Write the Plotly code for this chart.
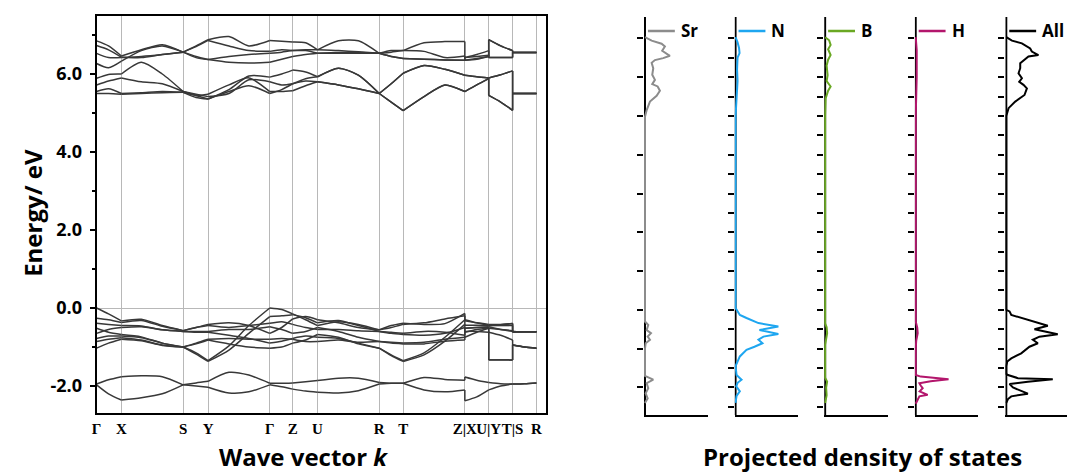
import plotly.graph_objects as go

W, H = 1067, 475

# ---------------- band structure data ----------------
# k-path sample positions (distance along path); repeated values mark discontinuities
K_GRID = [0, 12, 25, 45, 66, 87, 100, 112, 133, 153, 174, 186, 197, 210, 222, 243, 263,
          284, 296, 308, 329, 350, 370, 370, 382, 394, 394, 406, 418, 418, 430, 442]
K_POINTS = [0, 25, 87, 112, 174, 197, 222, 284, 308, 370, 394, 418, 442]
K_LABELS = ["Γ", "X", "S", "Y", "Γ", "Z", "U", "R", "T", "Z|X", "U|Y", "T|S", "R"]
K_END = 452

CB1 = [6.85, 6.72, 6.46, 6.62, 6.75, 6.56, 6.72, 6.88, 6.96, 6.72, 6.86, 6.84, 6.82, 6.80, 6.62, 6.85,
       6.85, 6.53, 6.56, 6.60, 6.80, 6.83, 6.83, 6.35, 6.38, 6.45, 6.88, 6.72, 6.60, 6.55, 6.55, 6.55]
CB2 = [6.73, 6.62, 6.43, 6.42, 6.50, 6.56, 6.45, 6.37, 6.45, 6.50, 6.53, 6.56, 6.60, 6.60, 6.53, 6.53,
       6.53, 6.53, 6.45, 6.40, 6.38, 6.36, 6.35, 6.42, 6.45, 6.48, 6.42, 6.42, 6.42, 6.55, 6.55, 6.55]
CB3 = [6.53, 6.42, 6.42, 6.45, 6.50, 6.56, 6.70, 6.86, 6.72, 6.60, 6.58, 6.62, 6.60, 6.62, 6.62, 6.60,
       6.57, 6.53, 6.60, 6.60, 6.58, 6.42, 6.46, 6.42, 6.50, 6.60, 6.42, 6.42, 6.42, 6.55, 6.55, 6.55]
CB4 = [6.27, 6.16, 6.33, 6.60, 6.72, 6.56, 6.42, 6.37, 6.30, 6.28, 6.30, 6.38, 6.45, 6.50, 6.53, 6.55,
       6.55, 6.53, 6.45, 6.40, 6.38, 6.36, 6.35, 6.35, 6.40, 6.45, 6.88, 6.72, 6.60, 6.55, 6.55, 6.55]
CB5 = [5.89, 5.99, 6.00, 6.30, 6.00, 5.55, 5.45, 5.36, 5.60, 5.95, 5.92, 6.00, 6.10, 6.05, 5.93, 6.15,
       5.97, 5.50, 5.75, 6.02, 6.22, 6.12, 5.97, 5.97, 5.93, 5.90, 5.90, 5.98, 6.08, 5.50, 5.50, 5.50]
CB6 = [5.72, 5.82, 5.90, 5.80, 5.75, 5.55, 5.48, 5.42, 5.50, 5.85, 5.80, 5.72, 5.75, 5.82, 5.80, 5.72,
       5.62, 5.50, 5.28, 5.06, 5.42, 5.72, 5.55, 5.55, 5.72, 5.88, 5.45, 5.28, 5.07, 5.50, 5.50, 5.50]
CB7 = [5.55, 5.62, 5.50, 5.52, 5.55, 5.53, 5.45, 5.48, 5.72, 5.90, 5.55, 5.55, 5.57, 5.70, 5.80, 5.72,
       5.62, 5.50, 5.28, 5.06, 5.42, 5.72, 5.55, 5.55, 5.72, 5.88, 5.45, 5.28, 5.07, 5.50, 5.50, 5.50]
CB8 = [5.50, 5.50, 5.48, 5.50, 5.52, 5.53, 5.40, 5.36, 5.55, 5.70, 5.50, 5.60, 5.75, 5.88, 5.93, 6.15,
       5.97, 5.50, 5.75, 6.02, 6.22, 6.12, 5.97, 5.97, 5.93, 5.90, 5.90, 5.98, 6.08, 5.50, 5.50, 5.50]

VB1 = [-0.52, -0.62, -0.68, -0.74, -0.90, -1.00, -1.15, -1.35, -0.97, -0.45, 0.00, -0.04, -0.15, -0.30, -0.45, -0.35,
       -0.42, -0.56, -0.45, -0.39, -0.42, -0.40, -0.14, -0.33, -0.38, -0.42, -0.42, -0.42, -0.40, -0.60, -0.61, -0.61]
VB2 = [-0.78, -0.72, -0.72, -0.76, -0.90, -1.00, -1.18, -1.37, -1.08, -0.65, -0.22, -0.20, -0.17, -0.25, -0.38, -0.32,
       -0.45, -0.60, -0.62, -0.65, -0.60, -0.62, -0.70, -0.52, -0.50, -0.50, -1.33, -1.33, -1.33, -0.95, -1.00, -1.03]
VB3 = [0.00, -0.15, -0.33, -0.29, -0.45, -0.58, -0.50, -0.42, -0.38, -0.45, -0.65, -0.50, -0.28, -0.22, -0.30, -0.38,
       -0.50, -0.56, -0.50, -0.42, -0.38, -0.28, -0.20, -0.44, -0.44, -0.45, -0.45, -0.45, -0.45, -0.62, -0.61, -0.61]
VB4 = [-0.26, -0.30, -0.37, -0.32, -0.47, -0.58, -0.50, -0.45, -0.50, -0.45, -0.39, -0.35, -0.42, -0.50, -0.55, -0.55,
       -0.58, -0.60, -0.65, -0.68, -0.70, -0.65, -0.50, -0.60, -0.60, -0.62, -0.62, -0.70, -0.82, -0.95, -1.00, -1.03]
VB5 = [-0.39, -0.42, -0.45, -0.46, -0.56, -0.60, -0.60, -0.60, -0.55, -0.55, -0.48, -0.55, -0.65, -0.60, -0.50, -0.60,
       -0.75, -0.86, -0.88, -0.90, -0.88, -0.80, -0.75, -0.75, -0.62, -0.52, -0.52, -0.55, -0.58, -0.61, -0.61, -0.61]
VB6 = [-0.65, -0.55, -0.50, -0.48, -0.56, -0.60, -0.62, -0.62, -0.70, -0.78, -0.90, -0.85, -0.78, -0.72, -0.75, -0.78,
       -0.90, -1.03, -1.20, -1.35, -1.15, -0.75, -0.30, -0.30, -0.38, -0.45, -0.45, -0.43, -0.40, -0.60, -0.61, -0.61]
VB7 = [-0.86, -0.80, -0.76, -0.82, -0.95, -1.00, -0.90, -0.80, -0.78, -0.80, -0.80, -0.78, -0.80, -0.86, -0.86, -0.82,
       -0.88, -0.86, -0.90, -0.92, -0.92, -0.85, -0.82, -0.62, -0.55, -0.52, -1.33, -1.33, -1.33, -0.95, -1.00, -1.03]
VB8 = [-1.03, -0.90, -0.80, -0.84, -0.96, -1.00, -0.92, -0.82, -0.92, -1.00, -1.03, -1.00, -0.90, -0.82, -0.68, -0.75,
       -0.92, -1.03, -1.22, -1.37, -1.20, -0.85, -0.42, -0.52, -0.50, -0.48, -0.48, -0.55, -0.60, -0.61, -0.61, -0.61]

LB1 = [-1.95, -1.84, -1.76, -1.74, -1.76, -1.97, -1.92, -1.88, -1.65, -1.72, -1.93, -1.93, -1.92, -1.89, -1.86, -1.80,
       -1.80, -1.91, -1.93, -1.93, -1.78, -1.83, -1.85, -1.77, -1.85, -1.91, -1.91, -1.94, -1.95, -1.95, -1.94, -1.92]
LB2 = [-1.97, -2.20, -2.36, -2.30, -2.20, -1.97, -2.00, -2.03, -2.18, -2.15, -1.97, -2.02, -2.08, -2.13, -2.16, -2.18,
       -2.12, -1.95, -1.93, -1.93, -2.10, -2.15, -2.10, -2.38, -2.28, -2.10, -2.10, -2.00, -1.95, -1.95, -1.94, -1.92]

BANDS = [CB1, CB2, CB3, CB4, CB5, CB6, CB7, CB8, VB1, VB2, VB3, VB4, VB5, VB6, VB7, VB8, LB1, LB2]

E_TICKS = [-2, 0, 2, 4, 6]
E_TICK_TEXT = ["-2.0", "0.0", "2.0", "4.0", "6.0"]
E_RANGE_BAND = [-2.692, 7.487]
E_RANGE_DOS = [-2.71, 7.55]

# ---------------- projected DOS data ----------------
SR_E = [7.03, 6.94, 6.86, 6.79, 6.68, 6.55, 6.49, 6.44, 6.37, 6.23, 6.06, 5.93, 5.82, 5.76, 5.65, 5.52, 5.37, 5.15, 4.98,
        -0.30, -0.39, -0.52, -0.60, -0.69, -0.77, -0.86, -1.00, -1.70, -1.76, -1.80, -1.89, -2.02, -2.15, -2.28, -2.40]
SR_D = [0.0, 0.67, 1.67, 2.0, 1.73, 2.5, 1.83, 1.0, 0.67, 0.83, 0.73, 1.0, 0.73, 1.27, 1.5, 1.17, 0.5, 0.17, 0.0,
        0.0, 0.33, 0.17, 0.6, 0.27, 0.5, 0.07, 0.0, 0.0, 0.5, 0.83, 0.17, 0.33, 0.07, 0.27, 0.0]

N_E = [7.03, 6.90, 6.75, 6.62, 6.50, 6.20, 5.90, 5.70, 5.40, 5.00,
       0.05, -0.13, -0.21, -0.34, -0.43, -0.52, -0.62, -0.69, -0.77, -0.86, -0.95, -1.03, -1.20, -1.33, -1.45,
       -1.68, -1.80, -1.88, -1.97, -2.10, -2.22, -2.30, -2.40]
N_D = [0.0, 0.2, 0.35, 0.4, 0.2, 0.15, 0.2, 0.15, 0.1, 0.0,
       0.0, 0.43, 1.1, 2.3, 4.3, 2.4, 4.3, 2.8, 2.3, 2.7, 1.9, 1.1, 0.43, 0.2, 0.0,
       0.1, 0.6, 0.2, 0.07, 0.43, 0.1, 0.05, 0.0]

B_E = [7.03, 6.95, 6.83, 6.72, 6.57, 6.45, 6.30, 6.05, 5.90, 5.76, 5.65, 5.45, 5.00,
       -0.35, -0.45, -0.60, -0.75, -0.90, -1.75, -1.85, -2.00, -2.20, -2.40]
B_D = [0.0, 0.4, 0.55, 0.3, 0.55, 0.3, 0.15, 0.25, 0.15, 0.55, 0.3, 0.05, 0.0,
       0.0, 0.15, 0.2, 0.1, 0.0, 0.0, 0.2, 0.1, 0.15, 0.0]

H_E = [7.03, 6.70, 6.00, 5.50, 5.00,
       -0.30, -0.45, -0.60, -0.80, -1.00,
       -1.68, -1.72, -1.76, -1.79, -1.84, -1.89, -1.95, -2.02, -2.10, -2.19, -2.23, -2.32, -2.42]
H_D = [0.0, 0.1, 0.1, 0.05, 0.0,
       0.0, 0.15, 0.2, 0.05, 0.0,
       0.0, 0.5, 1.9, 3.3, 1.5, 0.37, 0.5, 0.7, 0.4, 1.2, 0.37, 0.2, 0.0]

ALL_E = [7.03, 6.94, 6.87, 6.74, 6.66, 6.57, 6.53, 6.36, 6.23, 6.10, 5.97, 5.88, 5.80, 5.71, 5.54, 5.37, 5.20, 5.00,
         0.00, -0.04, -0.13, -0.21, -0.30, -0.41, -0.50, -0.56, -0.63, -0.69, -0.77, -0.86, -0.95, -1.12, -1.25,
         -1.33, -1.45, -1.65, -1.68, -1.76, -1.79, -1.85, -1.91, -2.00, -2.16, -2.23, -2.30, -2.40]
ALL_D = [0.0, 0.57, 1.57, 2.4, 2.57, 3.23, 2.23, 1.4, 1.4, 1.23, 1.57, 1.3, 1.73, 2.07, 1.83, 0.9, 0.23, 0.0,
         0.0, 0.33, 0.5, 1.5, 2.83, 4.17, 2.83, 3.83, 5.17, 3.33, 2.67, 3.17, 2.33, 1.5, 0.5,
         0.1, 0.0, 0.0, 0.17, 1.17, 4.67, 2.17, 0.33, 0.67, 2.17, 0.5, 0.17, 0.0]

DOS_NAMES = ["Sr", "N", "B", "H", "All"]
DOS_COLORS = ["#8c8c8c", "#1ea6f0", "#6aa823", "#b3166c", "#000000"]
DOS_SERIES = [(SR_E, SR_D), (N_E, N_D), (B_E, B_D), (H_E, H_D), (ALL_E, ALL_D)]
DOS_TICK_STEP = [1.0, 0.5, 0.5, 0.5, 0.5]

FONT = "Open Sans"
fig = go.Figure()


def band_xy(vals):
    xs, ys = [], []
    br = [i for i, k in enumerate(K_GRID) if k in K_POINTS]
    for a, b in zip(br[:-1], br[1:]):
        xs += K_GRID[a:b + 1] + [None]
        ys += vals[a:b + 1] + [None]
    return xs, ys


for vals in BANDS:
    xs, ys = band_xy(vals)
    fig.add_trace(go.Scatter(x=xs, y=ys, mode="lines", xaxis="x", yaxis="y",
                             line=dict(color="#383838", width=1.5, shape="spline", smoothing=0.7),
                             connectgaps=False, showlegend=False, hoverinfo="skip"))

px_x = lambda p: p / W
px_y = lambda p: 1 - p / H

layout = dict(
    width=W, height=H, autosize=False,
    margin=dict(l=0, r=0, t=0, b=0),
    paper_bgcolor="white", plot_bgcolor="white", showlegend=False,
    xaxis=dict(domain=[px_x(92), px_x(544)], range=[0, K_END], tickmode="array",
               tickvals=K_POINTS, ticktext=K_LABELS, ticks="", tickangle=0, showgrid=True,
               gridcolor="#b8b8b8", gridwidth=1, zeroline=False, showline=True,
               linecolor="black", linewidth=2, mirror=True,
               tickfont=dict(family="Liberation Serif", size=15, color="black", weight="bold"),
               ticklabelstandoff=1),
    yaxis=dict(domain=[px_y(413), px_y(16)], range=E_RANGE_BAND, tickmode="array",
               tickvals=E_TICKS, ticktext=E_TICK_TEXT, ticks="outside", ticklen=5,
               tickwidth=2, tickcolor="black", showgrid=False, zeroline=True,
               zerolinecolor="#b8b8b8", zerolinewidth=1, showline=True, linecolor="black",
               linewidth=2, mirror=True,
               minor=dict(tickmode="linear", tick0=0, dtick=1, ticks="outside", ticklen=3,
                          tickwidth=2, tickcolor="black"),
               tickfont=dict(family=FONT, size=18, color="black", weight="bold"),
               ticklabelstandoff=4),
)

AXIS_PX = [643, 734, 824, 915, 1006]
PANEL_W = 63
shapes = []
annotations = []
for i, (name, color, (es, ds), step) in enumerate(zip(DOS_NAMES, DOS_COLORS, DOS_SERIES, DOS_TICK_STEP)):
    n = i + 2
    xa, ya = f"x{n}", f"y{n}"
    left = AXIS_PX[i] - 1
    right = min(AXIS_PX[i] + PANEL_W, W)
    xr = [-0.1, -0.1 + (right - left) / 10.0]
    fig.add_trace(go.Scatter(x=ds, y=es, mode="lines", xaxis=xa, yaxis=ya,
                             line=dict(color=color, width=2), showlegend=False, hoverinfo="skip"))
    ticks = []
    t = -2.5
    while t <= 7.0 + 1e-9:
        if abs(t / step - round(t / step)) < 1e-6:
            ticks.append(round(t, 2))
        t += 0.5
    layout[f"xaxis{n}"] = dict(domain=[px_x(left), px_x(right)], range=xr, anchor=ya,
                               showline=True, linecolor="black", linewidth=2, ticks="",
                               showticklabels=False, showgrid=False, zeroline=False)
    layout[f"yaxis{n}"] = dict(domain=[px_y(415), px_y(17)], range=E_RANGE_DOS, anchor=xa,
                               showline=False, ticks="outside", ticklen=6, tickwidth=2,
                               tickcolor="black", tickmode="array", tickvals=ticks,
                               showticklabels=False, showgrid=False, zeroline=False)
    # y-axis line drawn under the curve
    shapes.append(dict(type="line", xref=xa, yref=ya, x0=0, x1=0, y0=E_RANGE_DOS[0], y1=E_RANGE_DOS[1],
                       line=dict(color="black", width=2), layer="below"))
    # legend sample
    shapes.append(dict(type="line", xref=xa, yref=ya, x0=0.3, x1=3.0, y0=7.19, y1=7.19,
                       line=dict(color=color, width=2.5), layer="above"))
    annotations.append(dict(xref=xa, yref=ya, x=3.4, y=7.19, text=name, showarrow=False,
                            xanchor="left", yanchor="middle",
                            font=dict(family=FONT, size=17, color="black", weight="bold")))

annotations.append(dict(xref="paper", yref="paper", x=px_x(300), y=0, showarrow=False,
                        text="Wave vector <i>k</i>", xanchor="center", yanchor="bottom",
                        font=dict(family=FONT, size=24, color="black", weight="bold")))
annotations.append(dict(xref="paper", yref="paper", x=px_x(862), y=0, showarrow=False,
                        text="Projected density of states", xanchor="center", yanchor="bottom",
                        font=dict(family=FONT, size=24, color="black", weight="bold")))
annotations.append(dict(xref="paper", yref="paper", x=px_x(27), y=px_y(213), showarrow=False,
                        text="Energy/ eV", textangle=-90, xanchor="center", yanchor="middle",
                        font=dict(family=FONT, size=24, color="black", weight="bold")))

layout["shapes"] = shapes
layout["annotations"] = annotations
fig.update_layout(**layout)
fig.write_html("out.html", config={"displayModeBar": False},
               post_script="document.body.style.margin='0px';document.body.style.padding='0px';")
